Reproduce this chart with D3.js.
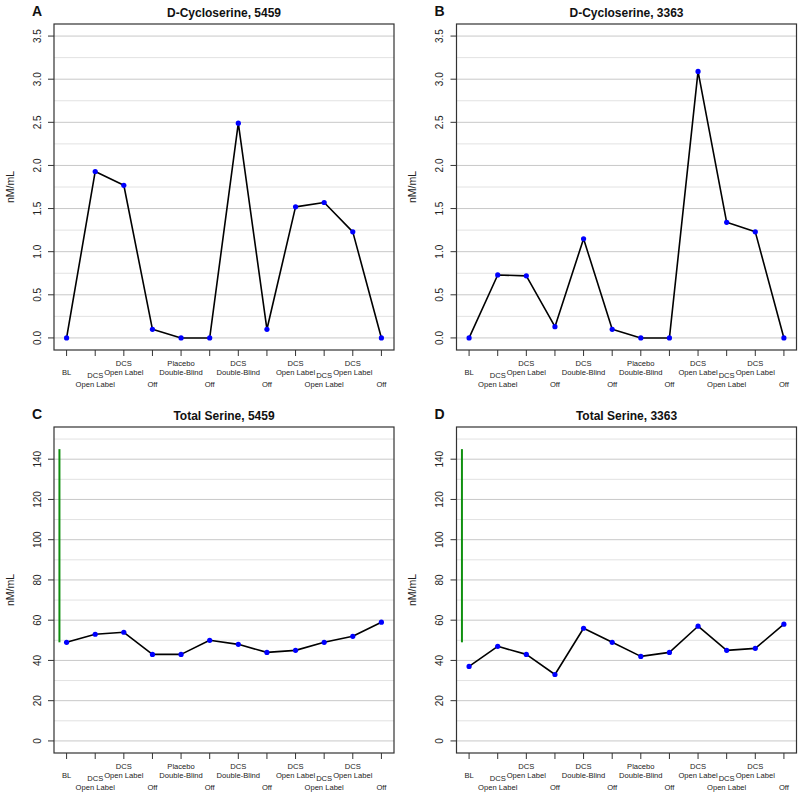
<!DOCTYPE html>
<html><head><meta charset="utf-8">
<script src="https://cdn.jsdelivr.net/npm/d3@7"></script>
<style>body{margin:0;background:#fff}svg{display:block}text{font-family:"Liberation Sans",Arial,sans-serif}</style>
</head><body><svg id="c" width="800" height="794"></svg>
<script>
// ---- data ----
const labelsAC = [["BL"],["DCS","Open Label"],["DCS","Open Label"],["Off"],["Placebo","Double-Blind"],["Off"],["DCS","Double-Blind"],["Off"],["DCS","Open Label"],["DCS","Open Label"],["DCS","Open Label"],["Off"]];
const labelsBD = [["BL"],["DCS","Open Label"],["DCS","Open Label"],["Off"],["DCS","Double-Blind"],["Off"],["Placebo","Double-Blind"],["Off"],["DCS","Open Label"],["DCS","Open Label"],["DCS","Open Label"],["Off"]];
const dcs5459 = [0, 1.93, 1.77, 0.10, 0, 0, 2.49, 0.10, 1.52, 1.57, 1.23, 0];
const dcs3363 = [0, 0.73, 0.72, 0.13, 1.15, 0.10, 0, 0, 3.09, 1.34, 1.23, 0];
const ser5459 = [49, 53, 54, 43, 43, 50, 48, 44, 45, 49, 52, 59];
const ser3363 = [37, 47, 43, 33, 56, 49, 42, 44, 57, 45, 46, 58];
const dcsTicks = [0, 0.5, 1.0, 1.5, 2.0, 2.5, 3.0, 3.5];
const dcsMinor = [0.25, 0.75, 1.25, 1.75, 2.25, 2.75, 3.25];
const serTicks = [0, 20, 40, 60, 80, 100, 120, 140];
const serMinor = [10, 30, 50, 70, 90, 110, 130, 150];
const serRange = [49, 145];
const panels = [
  {letter:"A", title:"D-Cycloserine, 5459", vals:dcs5459, labels:labelsAC, ylim:[0,3.5], ticks:dcsTicks, minor:dcsMinor, fmt:d3.format(".1f"), range:null, col:0, row:0},
  {letter:"B", title:"D-Cycloserine, 3363", vals:dcs3363, labels:labelsBD, ylim:[0,3.5], ticks:dcsTicks, minor:dcsMinor, fmt:d3.format(".1f"), range:null, col:1, row:0},
  {letter:"C", title:"Total Serine, 5459", vals:ser5459, labels:labelsAC, ylim:[0,150], ticks:serTicks, minor:serMinor, fmt:d3.format("d"), range:serRange, col:0, row:1},
  {letter:"D", title:"Total Serine, 3363", vals:ser3363, labels:labelsBD, ylim:[0,150], ticks:serTicks, minor:serMinor, fmt:d3.format("d"), range:serRange, col:1, row:1}
];

const svg = d3.select("#c");
const W = 340, H = 326;
const lefts = [54, 456.5], tops = [24, 427];

panels.forEach(p => {
  const x0 = lefts[p.col], y0 = tops[p.row];
  const g = svg.append("g").attr("transform", `translate(${x0},${y0})`);
  const n = p.vals.length;
  const xpad = (n - 1) * 0.04;
  const x = d3.scaleLinear().domain([1 - xpad, n + xpad]).range([0, W]);
  const ypad = (p.ylim[1] - p.ylim[0]) * 0.04;
  const y = d3.scaleLinear().domain([p.ylim[0] - ypad, p.ylim[1] + ypad]).range([H, 0]);

  // grid
  g.selectAll(".gmin").data(p.minor).join("line")
    .attr("x1", 0).attr("x2", W).attr("y1", d => y(d)).attr("y2", d => y(d))
    .attr("stroke", "#e2e2e2").attr("stroke-width", 1);
  g.selectAll(".gmaj").data(p.ticks).join("line")
    .attr("x1", 0).attr("x2", W).attr("y1", d => y(d)).attr("y2", d => y(d))
    .attr("stroke", "#c8c8c8").attr("stroke-width", 1);

  // green range bar
  if (p.range) {
    g.append("line").attr("x1", x(0.75)).attr("x2", x(0.75))
      .attr("y1", y(p.range[0])).attr("y2", y(p.range[1]))
      .attr("stroke", "#109010").attr("stroke-width", 2);
  }

  // line and points
  const idx = d3.range(n);
  g.append("path").datum(idx)
    .attr("d", d3.line().x(i => x(i + 1)).y(i => y(p.vals[i])))
    .attr("fill", "none").attr("stroke", "#000").attr("stroke-width", 1.6).attr("stroke-linejoin", "round");
  g.selectAll(".pt").data(idx).join("circle")
    .attr("cx", i => x(i + 1)).attr("cy", i => y(p.vals[i])).attr("r", 2.6).attr("fill", "#0000ff");

  // box
  g.append("rect").attr("x", 0).attr("y", 0).attr("width", W).attr("height", H)
    .attr("fill", "none").attr("stroke", "#333").attr("stroke-width", 1.2);

  // y axis ticks
  g.selectAll(".yt").data(p.ticks).join("line")
    .attr("x1", -6).attr("x2", 0).attr("y1", d => y(d)).attr("y2", d => y(d))
    .attr("stroke", "#333").attr("stroke-width", 1);
  g.selectAll(".yl").data(p.ticks).join("text")
    .attr("transform", d => `translate(${-17},${y(d)}) rotate(-90)`)
    .attr("text-anchor", "middle").attr("dy", "0.35em")
    .attr("font-size", 10).attr("fill", "#222").text(d => p.fmt(d));
  g.append("text").attr("transform", `translate(${-44},${H/2}) rotate(-90)`)
    .attr("text-anchor", "middle").attr("dy", "0.35em").attr("font-size", 10.5).attr("fill", "#222").text("nM/mL");

  // x axis ticks and labels
  g.selectAll(".xt").data(idx).join("line")
    .attr("x1", i => x(i + 1)).attr("x2", i => x(i + 1)).attr("y1", H).attr("y2", H + 6)
    .attr("stroke", "#333").attr("stroke-width", 1);
  idx.forEach(i => {
    const lines = p.labels[i];
    const lastY = (i % 2 === 0) ? H + 22 : H + 34;
    lines.forEach((t, k) => {
      g.append("text").attr("x", x(i + 1)).attr("y", lastY - (lines.length - 1 - k) * 9)
        .attr("dy", "0.35em").attr("text-anchor", "middle").attr("font-size", 7.6).attr("fill", "#222").text(t);
    });
  });

  // title and letter
  g.append("text").attr("x", W / 2).attr("y", -11).attr("dy", "0.35em").attr("text-anchor", "middle")
    .attr("font-size", 12).attr("font-weight", "bold").attr("fill", "#111").text(p.title);
  g.append("text").attr("x", -17).attr("y", -13).attr("dy", "0.35em").attr("text-anchor", "middle")
    .attr("font-size", 14).attr("font-weight", "bold").attr("fill", "#111").text(p.letter);
});
</script></body></html>
